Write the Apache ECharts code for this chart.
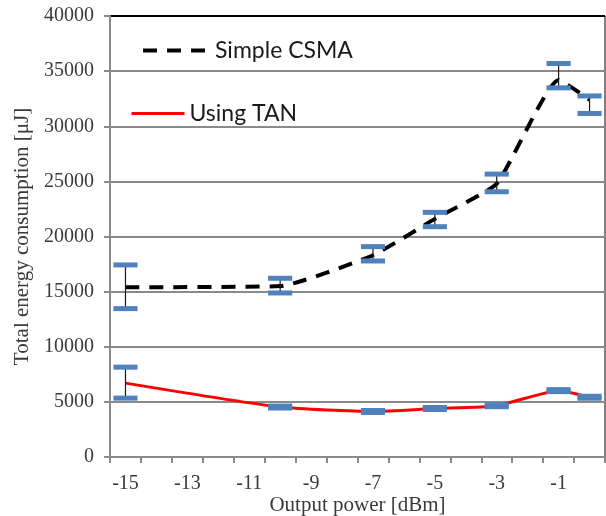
<!DOCTYPE html>
<html>
<head>
<meta charset="utf-8">
<script src="https://cdn.jsdelivr.net/npm/echarts@6/dist/echarts.min.js"></script>
<style>
  html, body { margin: 0; padding: 0; background: #fff; }
  #chart { width: 606px; height: 516px; }
</style>
</head>
<body>
<div id="chart"></div>
<script>
// Output power categories (dBm), one slot per integer step
const powerCategories = ['-15','-14','-13','-12','-11','-10','-9','-8','-7','-6','-5','-4','-3','-2','-1','0'];

// Measured points
const measuredPower = ['-15', '-10', '-7', '-5', '-3', '-1', '0'];

// Simple CSMA: mean energy and min/max range [µJ]
const csmaEnergy = [15400, 15500, 18300, 21600, 24800, 34200, 32400];
const csmaLow    = [13460, 14880, 17780, 20890, 24060, 33480, 31160];
const csmaHigh   = [17420, 16210, 19080, 22190, 25660, 35690, 32750];

// Using TAN: mean energy and min/max range [µJ]
const tanEnergy = [6700, 4530, 4130, 4400, 4650, 6020, 5420];
const tanLow    = [5340, 4440, 4040, 4310, 4560, 5930, 5330];
const tanHigh   = [8150, 4620, 4220, 4490, 4740, 6110, 5510];

const yTicks = { min: 0, max: 40000, interval: 5000 };

const pairs = (xs, ys) => xs.map((x, i) => [x, ys[i]]);
const ranges = (xs, lo, hi) => xs.map((x, i) => [x, lo[i], hi[i]]);

const gridGray = '#8a8a8a';
const textGray = '#3a3a3a';
const capBlue = '#4f81bd';

function renderErrorBar(params, api) {
  const x = api.value(0);
  const lo = api.coord([x, api.value(1)]);
  const hi = api.coord([x, api.value(2)]);
  const capW = api.size([1, 0])[0] * 0.78;
  const capH = 5;
  return {
    type: 'group',
    children: [
      { type: 'line', shape: { x1: lo[0], y1: lo[1], x2: hi[0], y2: hi[1] },
        style: { stroke: '#1a1a1a', lineWidth: 1.2 } },
      { type: 'rect', shape: { x: lo[0] - capW / 2, y: lo[1] - capH / 2, width: capW, height: capH },
        style: { fill: capBlue } },
      { type: 'rect', shape: { x: hi[0] - capW / 2, y: hi[1] - capH / 2, width: capW, height: capH },
        style: { fill: capBlue } }
    ]
  };
}

const splitColors = Array(9).fill(gridGray);
splitColors[8] = '#000';

const chart = echarts.init(document.getElementById('chart'), null, { renderer: 'canvas' });
chart.setOption({
  animation: false,
  backgroundColor: '#fff',
  grid: { left: 110, right: 1, top: 16, bottom: 59, show: true, borderColor: '#000', borderWidth: 1,
          outerBoundsMode: 'none', containLabel: false },
  legend: [
    {
      data: ['Simple CSMA'], left: 136, top: 34, itemWidth: 67, itemHeight: 24,
      textStyle: { fontFamily: 'Lato', fontSize: 23, color: '#1a1a1a' },
      itemStyle: { opacity: 0 },
      lineStyle: { width: 4, type: [14, 10] }
    },
    {
      data: ['Using TAN'], left: 125, top: 97, itemWidth: 53, itemHeight: 24,
      textStyle: { fontFamily: 'Lato', fontSize: 23, color: '#1a1a1a' },
      itemStyle: { opacity: 0 },
      lineStyle: { width: 3 }
    }
  ],
  xAxis: {
    type: 'category',
    data: powerCategories,
    boundaryGap: true,
    name: 'Output power [dBm]',
    nameLocation: 'middle',
    nameGap: 38,
    nameMoveOverlap: false,
    nameTextStyle: { fontFamily: 'Liberation Serif', fontSize: 21, color: textGray },
    axisLine: { lineStyle: { color: gridGray, width: 2 } },
    axisTick: { show: true, interval: 0, length: 6, lineStyle: { color: gridGray, width: 2 } },
    axisLabel: { interval: 1, margin: 17, fontFamily: 'Liberation Serif', fontSize: 20, color: textGray },
    splitLine: { show: false }
  },
  yAxis: {
    type: 'value',
    min: yTicks.min, max: yTicks.max, interval: yTicks.interval,
    name: 'Total energy consumption [\u03bcJ]',
    nameLocation: 'middle',
    nameGap: 77,
    nameRotate: 90,
    nameMoveOverlap: false,
    nameTextStyle: { fontFamily: 'Liberation Serif', fontSize: 21, color: textGray },
    axisLine: { show: true, lineStyle: { color: gridGray, width: 2 } },
    axisTick: { show: true, length: 6, lineStyle: { color: gridGray, width: 2 } },
    axisLabel: { margin: 16, fontFamily: 'Liberation Serif', fontSize: 20, color: textGray,
                 formatter: v => String(v) },
    splitLine: { show: true, lineStyle: { color: splitColors, width: 2 } }
  },
  series: [
    {
      name: 'Simple CSMA', type: 'line', smooth: 0.15, symbol: 'none',
      data: pairs(measuredPower, csmaEnergy),
      lineStyle: { color: '#000', width: 4, type: [14, 10] },
      itemStyle: { color: '#000' }, z: 3
    },
    {
      name: 'Using TAN', type: 'line', smooth: 0.2, symbol: 'none',
      data: pairs(measuredPower, tanEnergy),
      lineStyle: { color: '#ff0000', width: 3 },
      itemStyle: { color: '#ff0000' }, z: 3
    },
    {
      type: 'custom', renderItem: renderErrorBar, z: 5,
      data: ranges(measuredPower, csmaLow, csmaHigh), silent: true
    },
    {
      type: 'custom', renderItem: renderErrorBar, z: 5,
      data: ranges(measuredPower, tanLow, tanHigh), silent: true
    }
  ]
});
</script>
</body>
</html>
